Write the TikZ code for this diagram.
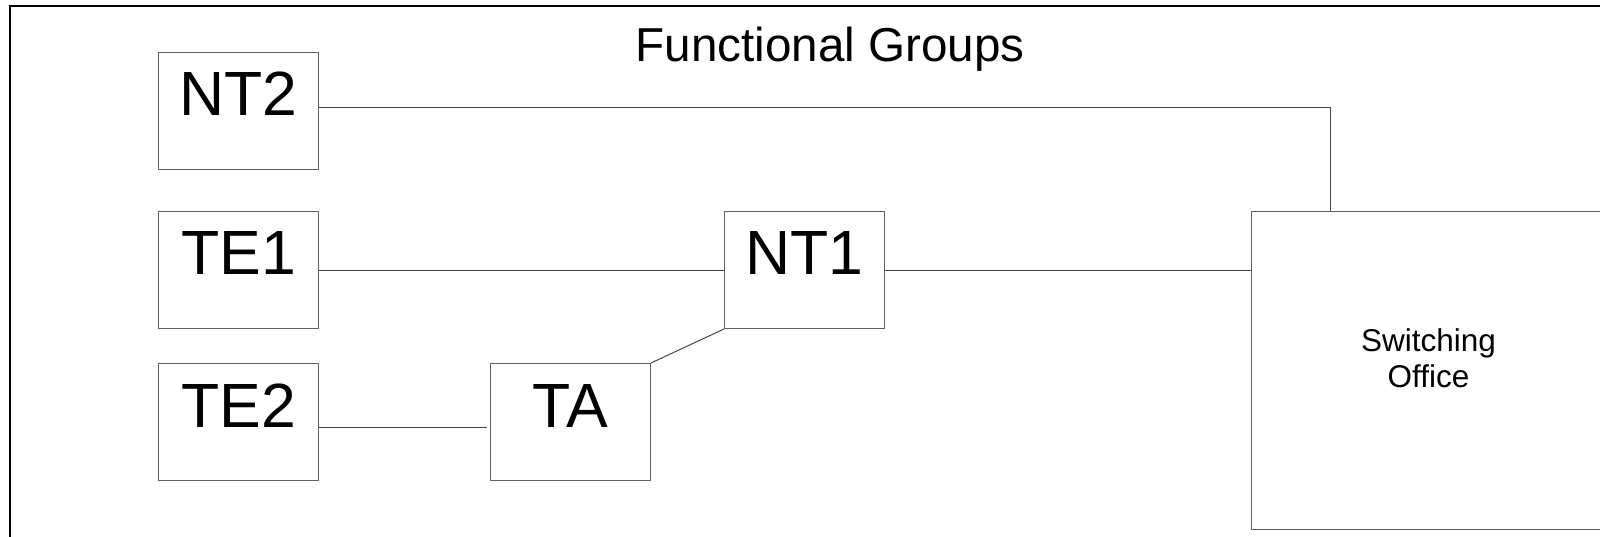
\documentclass[tikz,border=0pt]{standalone}
\usepackage{fontspec}
\setmainfont{Liberation Sans}
\begin{document}
\begin{tikzpicture}[x=1pt,y=-1pt,
  unit/.style={draw=black!62, line width=1pt, minimum width=160pt, minimum height=117pt,
    inner sep=0pt, anchor=north west},
  unitlabel/.style={label={[anchor=base, yshift=-64pt, inner sep=0pt,
    font=\fontsize{62.5}{74}\selectfont]north:#1}},
  wire/.style={draw=black!72, line width=1pt}
]
\useasboundingbox (0,0) rectangle (1600,537);
\clip (0,0) rectangle (1600,537);

% outer frame, running off the right and bottom edges
\draw[line width=2.4pt] (10.2,6.3) rectangle (1640,580);

% heading
\node[anchor=base, inner sep=0pt, font=\fontsize{47.6}{56}\selectfont] (title) at (830,62) {Functional Groups};

% functional units
\node[unit, unitlabel=NT2] (nt2) at (158,52) {};
\node[unit, unitlabel=TE1] (te1) at (158,211) {};
\node[unit, unitlabel=TE2] (te2) at (158,363) {};
\node[unit, unitlabel=TA]  (ta)  at (490,363) {};
\node[unit, unitlabel=NT1] (nt1) at (724,211) {};

% exchange
\node[unit, minimum width=354pt, minimum height=318pt,
  label={[align=center, anchor=center, yshift=12pt, inner sep=0pt,
    font=\fontsize{31.5}{36}\selectfont]center:Switching\\Office}] (so) at (1251,211) {};

% reference point stubs and links
\coordinate (bend) at (1330,108);
\draw[wire] (nt2.east |- bend) -- (bend) -- (bend |- so.north);
\draw[wire] (te1.east |- 0,271) -- (nt1.west |- 0,271);
\draw[wire] (nt1.east |- 0,271) -- (so.west |- 0,271);
\draw[wire, shorten >=3pt] (te2.east |- 0,427) -- (ta.west |- 0,427);
\draw[wire] (ta.north east) -- (nt1.south west);
\end{tikzpicture}
\end{document}
